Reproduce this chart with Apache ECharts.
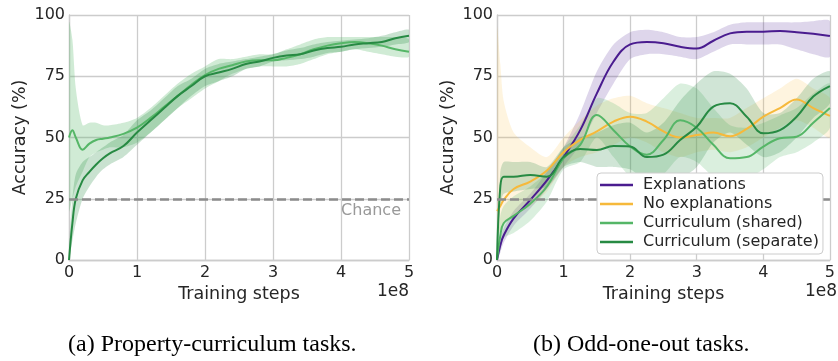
<!DOCTYPE html>
<html><head><meta charset="utf-8">
<script src="https://cdn.jsdelivr.net/npm/echarts@6/dist/echarts.min.js"></script>
<style>html,body{margin:0;padding:0;background:#fff}#c{width:838px;height:361px}</style>
</head><body><div id="c"></div>
<script>
// ---------- Data (a) Property-curriculum tasks ----------
const stepsA = [0,0.05,0.1,0.2,0.3,0.4,0.5,0.6,0.8,1.0,1.2,1.4,1.6,1.8,2.0,2.2,2.4,2.6,2.8,3.0,3.2,3.4,3.6,3.8,4.0,4.2,4.4,4.6,4.8,5.0];
const aShared   = [50,53,50,45,47.5,49,49.5,50,51.5,54,58,62.5,67,71.5,75.5,78,79.5,81,81.5,81.5,82.5,84,86,87.5,88.5,89,88.5,87.5,86,85];
const aSharedHi = [97,90,70,55,56,56,55,55,56,58,62,67,72,76,79,82,82,83,84,84,86,88,90,91,91,91,91,91,91,90];
const aSharedLo = [20,25,30,36,42,44,45,46,46,48,52,57,62,66,70,73,76,78,79,79,79,80,82,84,85,86,85,84,83,83];
const aSep      = [0,15,25,32.5,36,39,41.5,43.5,46.5,52,57,62,67,71,75,76.5,78,80,81,82.5,83.5,84,85.5,86.5,87,88,88.5,89,90.5,91.5];
const aSepHi    = [5,25,35,40,42,44,46,48,51,57,61,66,71,74,78,80,81,82,83,84,85.5,86.5,88,89,89.5,90,90.5,91.5,93,94];
const aSepLo    = [0,8,15,25,30,34,37,39,42,47,52,57,62,67,71,73,75,78,79,81,81.5,82,83,84.5,85,86,86.5,87,88,89];

// ---------- Data (b) Odd-one-out tasks ----------
const stepsB = [0,0.05,0.1,0.25,0.5,0.75,1.0,1.25,1.5,1.75,2.0,2.25,2.5,2.75,3.0,3.25,3.5,3.75,4.0,4.25,4.5,4.75,5.0];
const bExpl     = [0,6,10,17,24.5,32.5,42,53,68,81,88,89,88.5,87,86.3,89.5,92.5,93.2,93.2,93.5,93,92.3,91.4];
const bExplHi   = [3,9,13,20,27,36,46,60,77,88,93,94,93,91,91,93,96,97,97,97,97,97.5,97.5];
const bExplLo   = [0,3,7,14,21,29,38,47,60,72,82,84,84,83,82,85,88,88,88,88,86,84,83];
const bNoExpl   = [20,22,24.5,29,32,36.5,44,49,52.5,56.5,58.5,56.5,52.5,50,51,52,50.5,53.5,58.5,62,65.5,62,58.8];
const bNoExplHi = [95,80,65,52,46,42,50,57,63,66,67,64,62,60,58,58,58,62,66,70,74,70,66];
const bNoExplLo = [10,12,15,18,22,28,38,42,44,47,50,48,44,42,44,45,44,46,50,54,57,54,50];
const bShared   = [0,10,15,18,23,30,41.5,47,59.2,53,46.3,43,49,57,54,47,41.5,42,46.3,49.7,50.3,56,62];
const bSharedHi = [3,18,22,26,30,36,46,55,66,64,60,60,66,72,70,62,55,54,56,59,62,68,72];
const bSharedLo = [0,4,9,11,16,24,37,40,50,42,34,32,35,42,40,34,32,33,37,42,44,48,54];
const bSep      = [0,30,34,34,34.7,34,42,45.3,44.9,46.5,46.3,42,43,49,54.4,62.6,64,58.5,51.7,53,58.5,66.7,71];
const bSepHi    = [4,36,40,40,40,38,46,50,52,55,56,52,56,65,72,77,76,70,60,60,66,74,77];
const bSepLo    = [0,22,27,28,29,30,38,40,38,38,37,32,30,33,38,48,52,47,42,44,50,58,64];

const yTicks = [0,25,50,75,100];
const xTicks = [0,1,2,3,4,5];
const chance = 25;
const legendNames = ['Explanations','No explanations','Curriculum (shared)','Curriculum (separate)'];

const COL = {
  expl:'#4a1c8f', noexpl:'#f6b93b', shared:'#55b667', sep:'#278a43'
};
const FONT = 'DejaVu Sans';

function pairs(xs, ys){ return xs.map((x,i)=>[x, ys[i]]); }

function band(id, gi, xs, lo, hi, color, op){
  return {
    type:'custom', name:id, xAxisIndex:gi, yAxisIndex:gi, silent:true, z:1,
    data:[[xs[0], lo[0]]],
    clip:true,
    renderItem:function(params, api){
      const pts = [];
      for (let i=0;i<xs.length;i++) pts.push(api.coord([xs[i], hi[i]]));
      for (let i=xs.length-1;i>=0;i--) pts.push(api.coord([xs[i], lo[i]]));
      return {type:'polygon', shape:{points:pts, smooth:0.25, smoothConstraint:false},
              style:{fill:color, opacity:op}};
    }
  };
}
function line(name, gi, xs, ys, color, extra){
  return Object.assign({type:'line', name:name, xAxisIndex:gi, yAxisIndex:gi, smooth:0.4,
    data:pairs(xs, ys), showSymbol:false, symbol:'none', lineStyle:{color:color, width:2},
    itemStyle:{color:color}, z:3}, extra||{});
}

const chanceLine = (withLabel)=>({
  silent:true, symbol:['none','none'],
  lineStyle:{color:'#8c8c8c', type:[9,4], width:2.5},
  label: withLabel ? {show:true, formatter:'Chance', position:'insideEndBottom', color:'#999',
          fontSize:16, fontFamily:FONT, distance:[8,4]} : {show:false},
  data:[{yAxis:chance}]
});

const axisCommonX = (gi)=>({
  type:'value', gridIndex:gi, min:0, max:5, interval:1,
  name:'Training steps', nameLocation:'middle', nameGap:24,
  nameTextStyle:{fontSize:17.5, color:'#262626', fontFamily:FONT},
  axisLine:{show:true, lineStyle:{color:'#cccccc', width:1.3}},
  axisTick:{show:false},
  axisLabel:{fontSize:16, color:'#262626', fontFamily:FONT, margin:5,
    formatter:(v)=> xTicks.includes(v) ? String(v) : ''},
  splitLine:{show:true, lineStyle:{color:'#cccccc', width:1.3}}
});
const axisCommonY = (gi)=>({
  type:'value', gridIndex:gi, min:0, max:100, interval:25,
  name:'Accuracy (%)', nameLocation:'middle', nameGap:40,
  nameTextStyle:{fontSize:17.5, color:'#262626', fontFamily:FONT},
  axisLine:{show:true, lineStyle:{color:'#cccccc', width:1.3}},
  axisTick:{show:false},
  axisLabel:{fontSize:16, color:'#262626', fontFamily:FONT, margin:4,
    formatter:(v)=> yTicks.includes(v) ? String(v) : ''},
  splitLine:{show:true, lineStyle:{color:'#cccccc', width:1.3}}
});

const series = [
  band('aSh',0,stepsA,aSharedLo,aSharedHi,COL.shared,0.28),
  band('aSe',0,stepsA,aSepLo,aSepHi,COL.sep,0.25),
  line('Curriculum (shared)',0,stepsA,aShared,COL.shared,{markLine:chanceLine(true)}),
  line('Curriculum (separate)',0,stepsA,aSep,COL.sep),
  band('bEx',1,stepsB,bExplLo,bExplHi,COL.expl,0.18),
  band('bNo',1,stepsB,bNoExplLo,bNoExplHi,COL.noexpl,0.16),
  band('bSh',1,stepsB,bSharedLo,bSharedHi,COL.shared,0.22),
  band('bSe',1,stepsB,bSepLo,bSepHi,COL.sep,0.22),
  line('Explanations',1,stepsB,bExpl,COL.expl,{markLine:chanceLine(false)}),
  line('No explanations',1,stepsB,bNoExpl,COL.noexpl),
  line('Curriculum (shared)',1,stepsB,bShared,COL.shared),
  line('Curriculum (separate)',1,stepsB,bSep,COL.sep)
];

const chart = echarts.init(document.getElementById('c'), null, {renderer:'canvas'});
chart.setOption({
  animation:false,
  backgroundColor:'#ffffff',
  textStyle:{fontFamily:FONT},
  grid:[
    {left:69, top:15, width:340, height:245},
    {left:497, top:15, width:340, height:245}
  ],
  xAxis:[axisCommonX(0), axisCommonX(1)],
  yAxis:[axisCommonY(0), axisCommonY(1)],
  legend:{
    data:legendNames, orient:'vertical', left:597, top:173,
    backgroundColor:'#ffffff', borderColor:'#cccccc', borderWidth:1, borderRadius:4,
    padding:[4,4,4,3], itemGap:3, itemWidth:33, itemHeight:2.5, icon:'rect',
    textStyle:{fontSize:16, color:'#262626', fontFamily:FONT, padding:[0,0,0,5]},
    selectedMode:false, z:10
  },
  graphic:[
    {type:'text', right:838-409, top:283, style:{text:'1e8', fill:'#262626', font:'17px "DejaVu Sans"'}},
    {type:'text', right:1, top:283, style:{text:'1e8', fill:'#262626', font:'17px "DejaVu Sans"'}},
    {type:'text', left:68, top:333, style:{text:'(a) Property-curriculum tasks.', fill:'#000', font:'24px "Liberation Serif"'}},
    {type:'text', left:533, top:333, style:{text:'(b) Odd-one-out tasks.', fill:'#000', font:'24px "Liberation Serif"'}}
  ],
  series:series
});
</script></body></html>
